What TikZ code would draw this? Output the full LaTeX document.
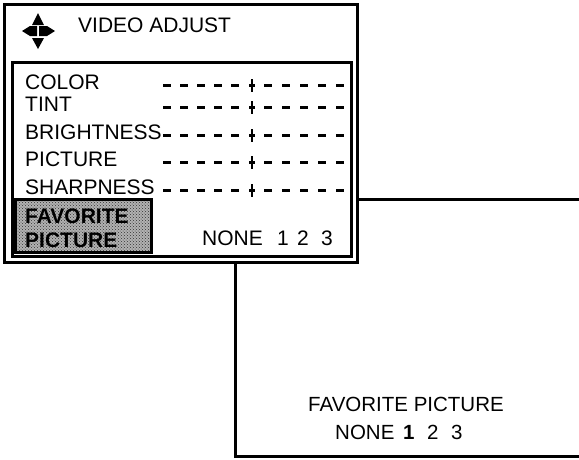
\documentclass[tikz,border=0pt]{standalone}
\usepackage{fontspec}
\setmainfont{Liberation Sans}
\usepackage{tikz}
\usetikzlibrary{positioning, patterns}

\tikzset{
  frameline/.style={color=black, line width=3pt},
  menutext/.style={anchor=west, inner sep=0pt, font=\fontsize{21}{25}\selectfont},
  paneltext/.style={inner sep=0pt, font=\fontsize{20.5}{24}\selectfont},
  tickmark/.style={color=black, line width=3.2pt},
  favbox/.style={draw=black, line width=3pt, preaction={fill=black!30}, pattern=crosshatch dots, pattern color=black!80}
}

\begin{document}
\begin{tikzpicture}[x=1pt, y=-1pt]
\useasboundingbox (0,0) rectangle (579,459);

% big frame behind the menu
\coordinate (ftop) at (357,199);
\coordinate (ftopr) at (579,199);
\coordinate (fleft) at (235,262);
\coordinate (fbotl) at (235,456);
\coordinate (fbotr) at (579,456);
\draw[frameline] (ftop) -- (ftopr);
\draw[frameline] (fleft) -- (fbotl) -- (fbotr);

% menu boxes
\draw[frameline] (4,4) rectangle (357,262);
\draw[frameline] (12,62) rectangle (351,256);

% arrow icon
\fill[color=black] (32,25) -- (44,25) -- (38,13) -- cycle;
\fill[color=black] (32,38) -- (44,38) -- (38,49) -- cycle;
\fill[color=black] (22,31) -- (30,26) -- (37,26) -- (37,36) -- (30,36) -- cycle;
\fill[color=black] (39,26) -- (47,26) -- (55,31) -- (47,36) -- (39,36) -- cycle;

\node[menutext] (title) at (78,25) {VIDEO ADJUST};

% menu rows
\foreach \y/\t/\n in {82/COLOR/color, 104/TINT/tint, 132/BRIGHTNESS/bright, 159/PICTURE/pict, 187/SHARPNESS/sharp} {
  \node[menutext] (\n) at (25,\y) {\t};
  \foreach \x in {167,184,201,218,235} {
    \draw[tickmark] (\x-4,\y+3.5) -- (\x+4,\y+3.5);
  }
  \draw[tickmark] (249,\y+3.5) -- (255,\y+3.5);
  \draw[color=black, line width=2pt] (252,\y-3) -- (252,\y+10);
  \foreach \x in {268,286,304,322,340} {
    \draw[tickmark] (\x-4,\y+3.5) -- (\x+4,\y+3.5);
  }
}

% highlighted item
\draw[favbox] (15,199) rectangle (151,252);
\node[menutext, font=\fontsize{21}{25}\selectfont\bfseries] (fav1) at (25,216) {FAVORITE};
\node[menutext, font=\fontsize{21}{25}\selectfont\bfseries] (fav2) at (25,240) {PICTURE};
\node[menutext] (mnone) at (202,238) {NONE};
\node[menutext] (mone) at (277,238) {1};
\node[menutext] (mtwo) at (297,238) {2};
\node[menutext] (mthree) at (321,238) {3};

% panel text
\node[paneltext] (pname) at (406,404) {FAVORITE PICTURE};
\node[paneltext, anchor=west] (pnone) at (335,432) {NONE};
\node[paneltext, anchor=west] (pone) at (403,432) {\textbf{1}};
\node[paneltext, anchor=west] (ptwo) at (427,432) {2};
\node[paneltext, anchor=west] (pthree) at (451,432) {3};
\end{tikzpicture}
\end{document}
